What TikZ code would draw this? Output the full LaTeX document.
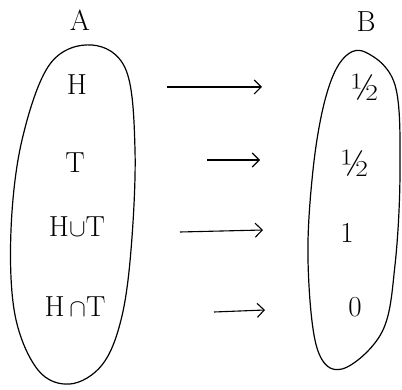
\documentclass[tikz,border=0pt]{standalone}
\usetikzlibrary{arrows.meta}

\tikzset{
  setoval/.style={line width=1.2pt, smooth cycle, tension=0.6},
  elem/.style={font=\fontsize{29}{34}\selectfont},
  half/.style={font=\fontsize{38}{42}\selectfont},
  maparrow/.style={line width=1.1pt, -{Straight Barb[length=7pt,width=14pt,line width=1.1pt]}}
}

\begin{document}
\begin{tikzpicture}[x=1pt,y=-1pt]
\useasboundingbox (0,0) rectangle (402,390);

% Set names
\node[elem] (nameA) at (80,20) {A};
\node[elem] (nameB) at (366,22) {B};

% Set A
\draw[setoval] plot coordinates {(92,45) (126,70) (135,150) (131,250)
  (121,320) (102,365) (70,384) (38,370) (15,315) (11,230) (22,140) (50,64)};

% Set B
\draw[setoval] plot coordinates {(365,52) (395,85) (400,170) (395,265)
  (382,332) (342,369) (317,348) (308,260) (313,170) (325,100) (342,60)};

% Elements of A
\node[elem] (a1) at (77,85) {H};
\node[elem] (a2) at (75,163) {T};
\node[elem] (a3) at (77,227) {H$\cup$T};
\node[elem] (a4) at (75,307) {H\,$\cap$T};

% Images in B
\node[half] (b1) at (365,87) {\textonehalf};
\node[half] (b2) at (355,163) {\textonehalf};
\node[elem] (b3) at (347,233) {1};
\node[elem] (b4) at (355,307) {0};

% Arrows
\foreach \i/\xs/\ys/\xe/\ye in {1/167/87/262/87, 2/207/160/260/160, 3/180/232/263/230, 4/214/312/265/310} {
  \coordinate (s\i) at (\xs,\ys);
  \coordinate (e\i) at (\xe,\ye);
  \draw[maparrow] (s\i) -- (e\i);
}

\end{tikzpicture}
\end{document}
